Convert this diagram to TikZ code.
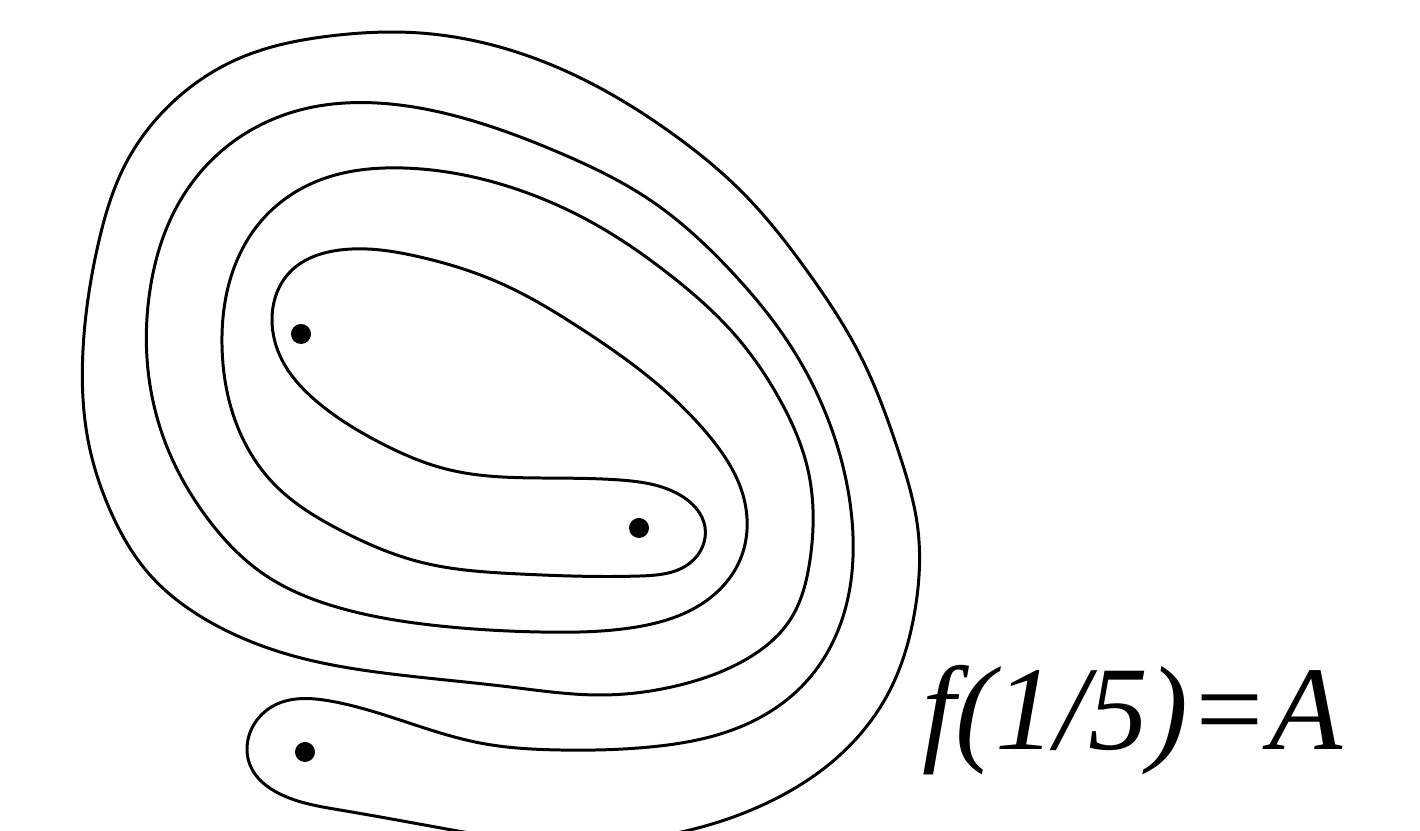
\documentclass[tikz,border=0pt]{standalone}
\usepackage{fontspec}
\setmainfont{Liberation Serif}
\usetikzlibrary{hobby}
\begin{document}
\begin{tikzpicture}[
    x=0.01cm, y=-0.01cm,
    foro/.style={circle, fill=black, inner sep=0pt, minimum size=0.2cm},
    curva/.style={draw=black, line width=0.85pt},
    etichetta/.style={anchor=base west, inner sep=0pt, font=\fontsize{34}{40}\selectfont\itshape}
]
    \useasboundingbox (0,0) rectangle (1420,831);

    % 1. Punti forati
    \node[foro] (P1) at (301,334) {};
    \node[foro] (P2) at (639,528) {};
    \node[foro] (P3) at (305,752) {};

    % 2. La curva chiusa (una sola, avvolta a spirale)
    \draw[curva] plot[closed hobby] coordinates {
        % giro esterno a sinistra, poi in basso
        (83,350) (88,440) (110,510) (150,575) (210,622) (290,655)
        (400,675) (510,687) (600,695) (680,685) (745,660) (790,620)
        (810,560)
        % a destra e in alto
        (808,470) (780,400) (735,335) (670,275) (600,227) (510,187)
        (403,168) (320,180) (262,220) (230,280) (222,345)
        (235,420) (275,485) (340,530) (420,562) (520,574)
        % attorno a P2
        (640,576) (690,563) (705,527) (680,495) (620,480)
        (540,478) (450,470) (375,440) (315,400) (282,360)
        % attorno a P1
        (272,320) (290,272) (340,250) (420,257) (500,283)
        (580,328) (650,378) (710,437) (743,495) (740,560)
        (700,605) (630,628) (540,632) (440,626) (340,608)
        (265,575) (205,515) (167,447) (148,370) (150,290)
        (175,210) (225,148) (300,110) (377,103) (470,120)
        (560,153) (650,200) (730,270) (790,345) (832,430)
        (852,520) (845,610) (805,683) (740,727)
        (650,747) (560,750) (480,743) (400,720) (330,701)
        % attorno a P3
        (275,705) (252,728) (250,765) (280,794) (340,810)
        (430,826) (520,840) (610,842) (690,830) (767,803)
        (840,755) (890,690) (915,610) (918,530) (898,450)
        (860,355) (810,275) (740,190) (670,132) (600,88)
        (510,50) (420,33) (330,36) (240,58) (175,100)
        (125,165) (98,245)
    };

    % 3. Etichetta
    \node[etichetta] (nome) at (922,750) {f(1/5)=A};

\end{tikzpicture}
\end{document}
